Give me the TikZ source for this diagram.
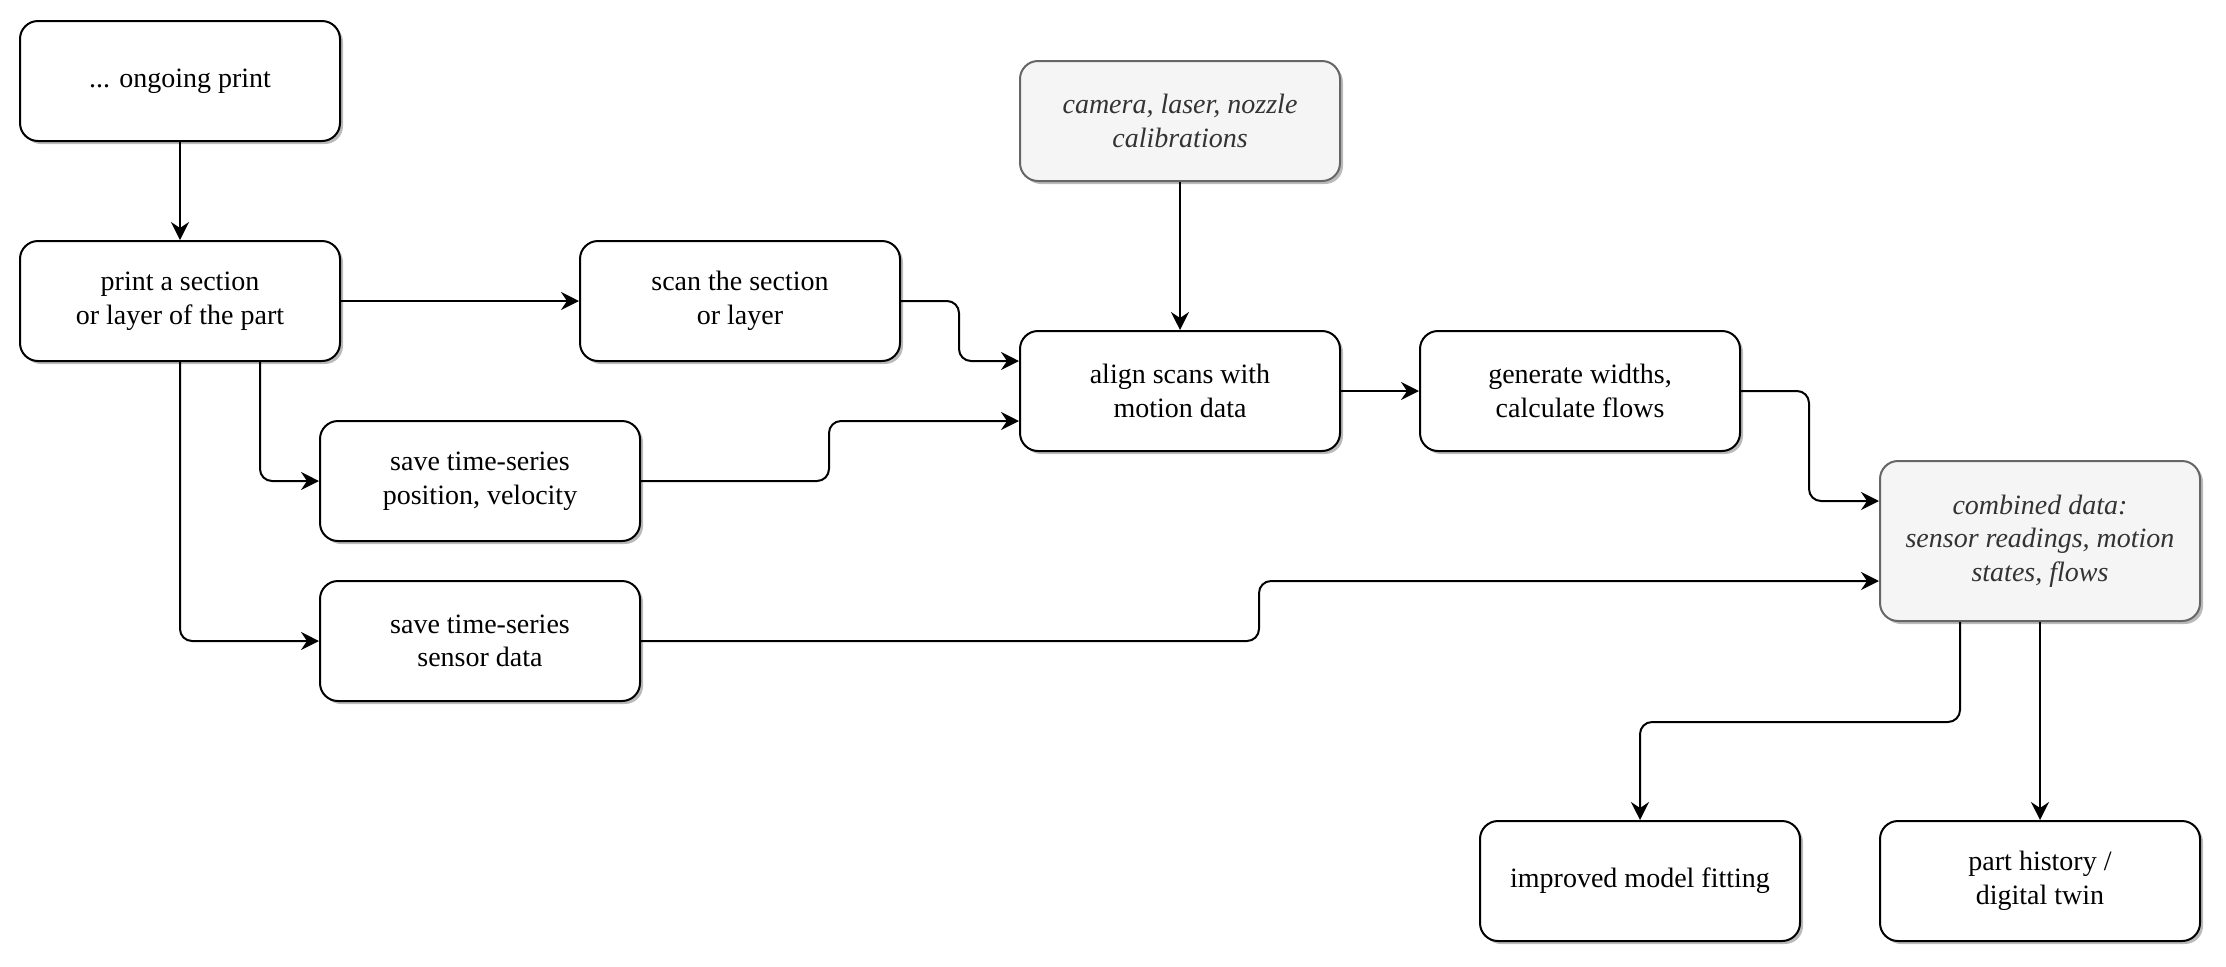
\documentclass[tikz,border=0pt]{standalone}
\usepackage{fontspec}
\setmainfont{Liberation Serif}
\usetikzlibrary{arrows.meta,shadows}
\definecolor{calfill}{HTML}{F5F5F5}
\definecolor{calline}{HTML}{666666}
\definecolor{caltext}{HTML}{333333}

\begin{document}
\begin{tikzpicture}[x=1pt,y=-1pt,line width=1pt,
  box/.style={draw,rounded corners=9pt,minimum width=160pt,minimum height=60pt,align=center,fill=white,
    font=\fontsize{14}{16.8}\selectfont,
    drop shadow={shadow xshift=1.5pt,shadow yshift=-1.5pt,opacity=0.45,fill=black!60}},
  calbox/.style={box,fill=calfill,draw=calline,text=caltext,font=\fontsize{14}{16.8}\selectfont\itshape},
  link/.style={-{Stealth[length=9pt,width=9pt,inset=3pt]},rounded corners=6pt}]
\useasboundingbox (0,-0.5) rectangle (1113,482.5);
\node (ongoing) at (90,40) [box] {... ongoing print};
\node (print) at (90,150) [box] {print a section\\or layer of the part};
\node (scan) at (370,150) [box] {scan the section\\or layer};
\node (calib) at (590,60) [calbox] {camera, laser, nozzle\\calibrations};
\node (align) at (590,195) [box] {align scans with\\motion data};
\node (widths) at (790,195) [box] {generate widths,\\calculate flows};
\node (motion) at (240,240) [box] {save time-series\\position, velocity};
\node (sensor) at (240,320) [box] {save time-series\\sensor data};
\node (combined) at (1020,270) [calbox,minimum height=80pt] {combined data:\\sensor readings, motion\\states, flows};
\node (fitting) at (820,440) [box] {improved model fitting};
\node (twin) at (1020,440) [box] {part history /\\digital twin};
\draw[link] (ongoing) -- (print);
\draw[link] (print) -- (scan);
\draw[link] ([xshift=40pt]print.south) |- (motion.west);
\draw[link] (print.south) |- (sensor.west);
\draw[link] (scan.east) -| ([xshift=-30pt,yshift=15pt]align.west) -- ([yshift=15pt]align.west);
\draw[link] (motion.east) -| ([xshift=-95pt,yshift=-15pt]align.west) -- ([yshift=-15pt]align.west);
\draw[link] (calib) -- (align);
\draw[link] (align) -- (widths);
\draw[link] (widths.east) -| ([xshift=-35pt,yshift=20pt]combined.west) -- ([yshift=20pt]combined.west);
\draw[link] (sensor.east) -| ([xshift=-310pt,yshift=-20pt]combined.west) -- ([yshift=-20pt]combined.west);
\draw[link] ([xshift=-40pt]combined.south) -- ++(0,50) -| (fitting.north);
\draw[link] (combined) -- (twin);
\end{tikzpicture}
\end{document}
